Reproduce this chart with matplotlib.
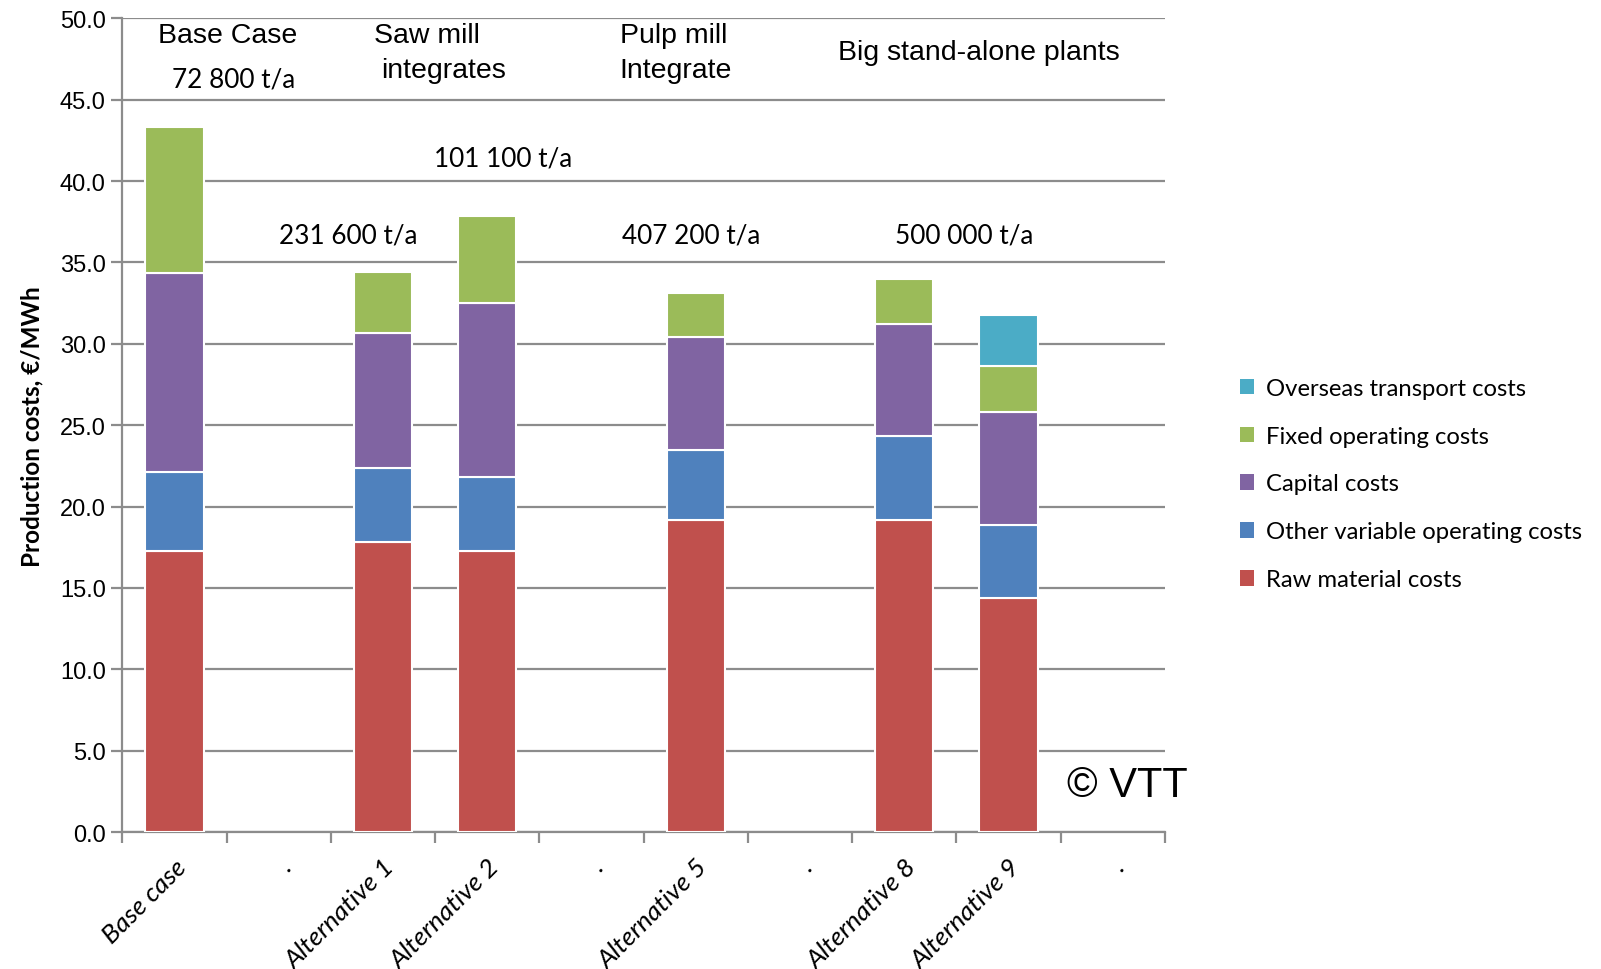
import matplotlib
matplotlib.use("Agg")
import matplotlib.pyplot as plt
import matplotlib.transforms as mtransforms
import numpy as np

categories = ["Base case", ".", "Alternative 1", "Alternative 2", ".",
              "Alternative 5", ".", "Alternative 8", "Alternative 9", "."]
raw_material = [17.3, 0, 17.8, 17.3, 0, 19.2, 0, 19.2, 14.4, 0]
other_variable = [4.85, 0, 4.6, 4.5, 0, 4.25, 0, 5.15, 4.45, 0]
capital = [12.2, 0, 8.25, 10.7, 0, 7.0, 0, 6.85, 6.95, 0]
fixed_operating = [8.95, 0, 3.75, 5.35, 0, 2.65, 0, 2.8, 2.85, 0]
overseas = [0, 0, 0, 0, 0, 0, 0, 0, 3.1, 0]
series = [("Raw material costs", raw_material, "#C0504D"),
          ("Other variable operating costs", other_variable, "#4F81BD"),
          ("Capital costs", capital, "#8064A2"),
          ("Fixed operating costs", fixed_operating, "#9BBB59"),
          ("Overseas transport costs", overseas, "#4BACC6")]

fig = plt.figure(figsize=(16.01, 9.70), dpi=100)
ax = fig.add_axes([0.0765, 0.1412, 0.651, 0.8388])

x = np.arange(len(categories))
bottom = np.zeros(len(categories))
handles = []
for name, vals, col in series:
    v = np.array(vals, dtype=float)
    mask = v > 0
    b = ax.bar(x[mask], v[mask], bottom=bottom[mask], width=0.56, color=col,
               edgecolor="white", linewidth=1.5, label=name, zorder=3)
    handles.append(b)
    bottom += v

ax.set_xlim(-0.5, len(categories) - 0.5)
ax.set_ylim(0, 50)
yt = np.arange(0, 50.1, 5)
ax.set_yticks(yt)
ax.set_yticklabels([f"{t:.1f}" for t in yt], fontsize=17, family="Liberation Sans")
ax.yaxis.grid(True, color="#8c8c8c", linewidth=1.6, zorder=0)
ax.set_axisbelow(True)
for s in ["top", "right"]:
    ax.spines[s].set_visible(False)
for s in ["left", "bottom"]:
    ax.spines[s].set_color("#8c8c8c")
    ax.spines[s].set_linewidth(1.6)
ax.tick_params(axis="y", length=8, width=1.6, color="#8c8c8c", pad=4)

# x ticks at boundaries, labels at centers
ax.set_xticks(np.arange(-0.5, len(categories), 1.0))
ax.set_xticklabels([])
ax.tick_params(axis="x", which="major", length=8, width=1.6, color="#8c8c8c", direction="out")
ax.set_xticks(x, minor=True)
ax.set_xticklabels(categories, minor=True, rotation=45, ha="right",
                   rotation_mode="anchor", fontsize=19, style="italic", family="Lato")
ax.tick_params(axis="x", which="minor", length=0, pad=16)

ax.set_ylabel("Production costs, €/MWh", fontsize=17.5, fontweight="bold",
              family="Lato", labelpad=12)

arial = "Liberation Sans"
calibri = "Lato"
ax.text(0.51, 48.95, "Base Case", ha="center", va="center", fontsize=20.5, family=arial)
ax.text(0.57, 46.3, "72 800 t/a", ha="center", va="center", fontsize=18.8, family=calibri)
ax.text(1.91, 48.95, "Saw mill", ha="left", va="center", fontsize=20.5, family=arial)
ax.text(1.98, 46.8, "integrates", ha="left", va="center", fontsize=20.5, family=arial)
ax.text(3.15, 41.4, "101 100 t/a", ha="center", va="center", fontsize=18.8, family=calibri)
ax.text(1.67, 36.7, "231 600 t/a", ha="center", va="center", fontsize=18.8, family=calibri)
ax.text(4.27, 48.95, "Pulp mill", ha="left", va="center", fontsize=20.5, family=arial)
ax.text(4.27, 46.8, "Integrate", ha="left", va="center", fontsize=20.5, family=arial)
ax.text(4.96, 36.7, "407 200 t/a", ha="center", va="center", fontsize=18.8, family=calibri)
ax.text(7.72, 47.95, "Big stand-alone plants", ha="center", va="center", fontsize=20.5, family=arial)
ax.text(7.58, 36.7, "500 000 t/a", ha="center", va="center", fontsize=18.8, family=calibri)
ax.text(9.14, 2.9, "© VTT", ha="center", va="center", fontsize=30, family=arial)

leg = fig.legend(handles[::-1], [s[0] for s in series][::-1],
                 loc="center left", bbox_to_anchor=(0.761, 0.5),
                 frameon=False, handlelength=0.6, handleheight=0.6,
                 handletextpad=0.5, labelspacing=1.13,
                 prop={"family": calibri, "size": 17.2})
for h in leg.legend_handles:
    h.set_edgecolor("none")

fig.savefig("out.png", dpi=100)
